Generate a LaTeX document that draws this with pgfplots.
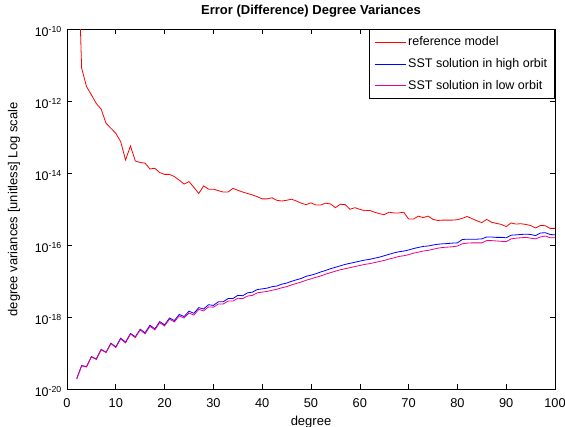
\documentclass[border=0pt]{standalone}
\usepackage{fontspec}
\setmainfont{Liberation Sans}
\usepackage{pgfplots}
\pgfplotsset{compat=1.18}
\begin{document}
\fontsize{12.5bp}{15bp}\selectfont
\begin{tikzpicture}
\useasboundingbox (-67bp,-37.7bp) rectangle (498bp,389.3bp);
\begin{axis}[
  scale only axis, width=488bp, height=360bp,
  at={(0,0)}, anchor=south west,
  xmin=0, xmax=100, ymode=log, ymin=1e-20, ymax=1e-10,
  xtick={0,10,...,100},
  ytick={1e-20,1e-18,1e-16,1e-14,1e-12,1e-10},
  yticklabels={10\textsuperscript{-20},10\textsuperscript{-18},10\textsuperscript{-16},10\textsuperscript{-14},10\textsuperscript{-12},10\textsuperscript{-10}},
  /pgf/number format/assume math mode=true,
  yminorticks=false, xminorticks=false,
  tick align=inside, major tick length=5bp,
  axis line style={line width=0.6bp},
  every tick/.style={black, line width=0.6bp},
  xticklabel style={inner sep=0pt, anchor=north, yshift=-9bp, font=\fontsize{12.8bp}{15bp}\selectfont},
  yticklabel style={inner sep=0pt, anchor=east, xshift=-5bp, yshift=-2bp, font=\fontsize{12.5bp}{15bp}\selectfont},
  title={\bfseries Error (Difference) Degree Variances},
  title style={at={(axis description cs:0.5,1.0258)}, anchor=base, inner sep=0pt, font=\fontsize{13bp}{15bp}\selectfont},
  xlabel={degree},
  xlabel style={at={(axis description cs:0.5,-0.0992)}, anchor=base, inner sep=0pt, font=\fontsize{13bp}{15bp}\selectfont},
  ylabel={degree variances [unitless] Log scale},
  ylabel style={at={(axis description cs:-0.1086,0.5)}, anchor=center, inner sep=0pt, font=\fontsize{13bp}{15bp}\selectfont},
  legend style={at={(axis description cs:1,1)}, anchor=north east, draw=black, line width=0.6bp,
    font=\fontsize{12.5bp}{15bp}\selectfont, inner xsep=5.5bp, inner ysep=5bp, row sep=7bp},
  legend cell align=left,
  legend image code/.code={\draw[mark repeat=2,mark phase=2,line width=0.8bp] plot coordinates {(0bp,0bp) (15.5bp,0bp) (31bp,0bp)};},
]
\addplot[red, line width=0.8bp] coordinates {
(2,2e-7)(3,8.32e-12)(4,2.57e-12)(5,1.51e-12)(6,8.71e-13)(7,6.03e-13)(8,2.45e-13)(9,1.78e-13)(10,1.29e-13)
(11,7.59e-14)(12,2.34e-14)(13,5.75e-14)(14,2.19e-14)(15,2.0e-14)(16,1.91e-14)(17,1.32e-14)(18,1.38e-14)(19,1.05e-14)(20,9.33e-15)
(21,9.33e-15)(22,8.13e-15)(23,6.46e-15)(24,5.01e-15)(25,5.89e-15)(26,4.07e-15)(27,2.75e-15)(28,4.47e-15)(29,3.63e-15)(30,3.63e-15)
(31,3.31e-15)(32,3.02e-15)(33,3.02e-15)(34,3.80e-15)(35,3.39e-15)(36,3.02e-15)(37,2.75e-15)(38,2.51e-15)(39,2.24e-15)(40,1.95e-15)
(41,1.95e-15)(42,2.09e-15)(43,1.78e-15)(44,1.70e-15)(45,1.78e-15)(46,1.91e-15)(47,1.70e-15)(48,1.48e-15)(49,1.35e-15)(50,1.51e-15)
(51,1.32e-15)(52,1.32e-15)(53,1.48e-15)(54,1.41e-15)(55,1.11e-15)(56,1.38e-15)(57,1.35e-15)(58,1.0e-15)(59,1.11e-15)(60,1.0e-15)
(61,9.12e-16)(62,9.33e-16)(63,8.32e-16)(64,7.59e-16)(65,7.08e-16)(66,8.32e-16)(67,7.94e-16)(68,7.94e-16)(69,8.32e-16)(70,5.37e-16)
(71,5.37e-16)(72,6.46e-16)(73,5.89e-16)(74,6.46e-16)(75,5.25e-16)(76,4.90e-16)(77,5.01e-16)(78,5.01e-16)(79,5.01e-16)(80,5.13e-16)
(81,5.62e-16)(82,6.31e-16)(83,5.50e-16)(84,4.79e-16)(85,4.27e-16)(86,5.25e-16)(87,4.37e-16)(88,4.07e-16)(89,3.80e-16)(90,3.31e-16)
(91,4.17e-16)(92,3.89e-16)(93,3.98e-16)(94,3.80e-16)(95,3.55e-16)(96,3.02e-16)(97,3.55e-16)(98,3.51e-16)(99,2.95e-16)(100,2.95e-16)
};
\addlegendentry{reference model}
\addplot[blue, line width=0.8bp] coordinates {
(2,2.0e-20)(3,4.57e-20)(4,4.27e-20)(5,8.13e-20)(6,6.92e-20)(7,1.29e-19)(8,1.07e-19)(9,1.91e-19)(10,1.51e-19)
(11,2.63e-19)(12,2.04e-19)(13,3.55e-19)(14,2.88e-19)(15,4.68e-19)(16,3.72e-19)(17,6.03e-19)(18,4.79e-19)(19,7.59e-19)(20,6.17e-19)
(21,9.55e-19)(22,8.13e-19)(23,1.20e-18)(24,1.05e-18)(25,1.48e-18)(26,1.29e-18)(27,1.86e-18)(28,1.70e-18)(29,2.24e-18)(30,2.14e-18)
(31,2.69e-18)(32,2.69e-18)(33,3.31e-18)(34,3.31e-18)(35,4.07e-18)(36,3.98e-18)(37,4.79e-18)(38,5.01e-18)(39,5.89e-18)(40,6.17e-18)
(41,6.46e-18)(42,7.08e-18)(43,7.41e-18)(44,8.32e-18)(45,8.91e-18)(46,1.0e-17)(47,1.10e-17)(48,1.20e-17)(49,1.38e-17)(50,1.48e-17)
(51,1.62e-17)(52,1.82e-17)(53,2.0e-17)(54,2.24e-17)(55,2.45e-17)(56,2.69e-17)(57,2.95e-17)(58,3.16e-17)(59,3.39e-17)(60,3.63e-17)
(61,3.89e-17)(62,4.07e-17)(63,4.37e-17)(64,4.68e-17)(65,5.13e-17)(66,5.62e-17)(67,6.17e-17)(68,6.61e-17)(69,6.92e-17)(70,7.41e-17)
(71,8.13e-17)(72,8.71e-17)(73,9.33e-17)(74,9.55e-17)(75,1.02e-16)(76,1.07e-16)(77,1.10e-16)(78,1.12e-16)(79,1.15e-16)(80,1.17e-16)
(81,1.45e-16)(82,1.48e-16)(83,1.48e-16)(84,1.48e-16)(85,1.51e-16)(86,1.70e-16)(87,1.70e-16)(88,1.66e-16)(89,1.66e-16)(90,1.62e-16)
(91,1.91e-16)(92,1.95e-16)(93,2.0e-16)(94,2.04e-16)(95,2.0e-16)(96,1.86e-16)(97,2.19e-16)(98,2.24e-16)(99,2.0e-16)(100,1.95e-16)
};
\addlegendentry{SST solution in high orbit}
\addplot[magenta, line width=0.8bp] coordinates {
(2,1.95e-20)(3,4.47e-20)(4,4.17e-20)(5,7.94e-20)(6,6.76e-20)(7,1.26e-19)(8,1.05e-19)(9,1.86e-19)(10,1.45e-19)
(11,2.51e-19)(12,1.95e-19)(13,3.39e-19)(14,2.75e-19)(15,4.47e-19)(16,3.47e-19)(17,5.62e-19)(18,4.47e-19)(19,7.08e-19)(20,5.75e-19)
(21,8.91e-19)(22,7.41e-19)(23,1.10e-18)(24,9.55e-19)(25,1.32e-18)(26,1.15e-18)(27,1.66e-18)(28,1.51e-18)(29,1.95e-18)(30,1.91e-18)
(31,2.34e-18)(32,2.34e-18)(33,2.82e-18)(34,2.82e-18)(35,3.39e-18)(36,3.31e-18)(37,3.89e-18)(38,4.07e-18)(39,4.79e-18)(40,5.01e-18)
(41,5.25e-18)(42,5.62e-18)(43,6.03e-18)(44,6.61e-18)(45,7.08e-18)(46,7.94e-18)(47,8.71e-18)(48,9.55e-18)(49,1.07e-17)(50,1.17e-17)
(51,1.29e-17)(52,1.41e-17)(53,1.58e-17)(54,1.74e-17)(55,1.91e-17)(56,2.09e-17)(57,2.24e-17)(58,2.40e-17)(59,2.57e-17)(60,2.75e-17)
(61,2.95e-17)(62,3.09e-17)(63,3.31e-17)(64,3.55e-17)(65,3.80e-17)(66,4.17e-17)(67,4.47e-17)(68,4.90e-17)(69,5.13e-17)(70,5.50e-17)
(71,6.03e-17)(72,6.46e-17)(73,6.92e-17)(74,7.24e-17)(75,7.76e-17)(76,8.32e-17)(77,8.71e-17)(78,8.91e-17)(79,9.12e-17)(80,9.55e-17)
(81,1.10e-16)(82,1.15e-16)(83,1.17e-16)(84,1.17e-16)(85,1.17e-16)(86,1.35e-16)(87,1.35e-16)(88,1.32e-16)(89,1.29e-16)(90,1.26e-16)
(91,1.51e-16)(92,1.58e-16)(93,1.62e-16)(94,1.66e-16)(95,1.58e-16)(96,1.51e-16)(97,1.70e-16)(98,1.82e-16)(99,1.62e-16)(100,1.62e-16)
};
\addlegendentry{SST solution in low orbit}
\end{axis}
\end{tikzpicture}
\end{document}
